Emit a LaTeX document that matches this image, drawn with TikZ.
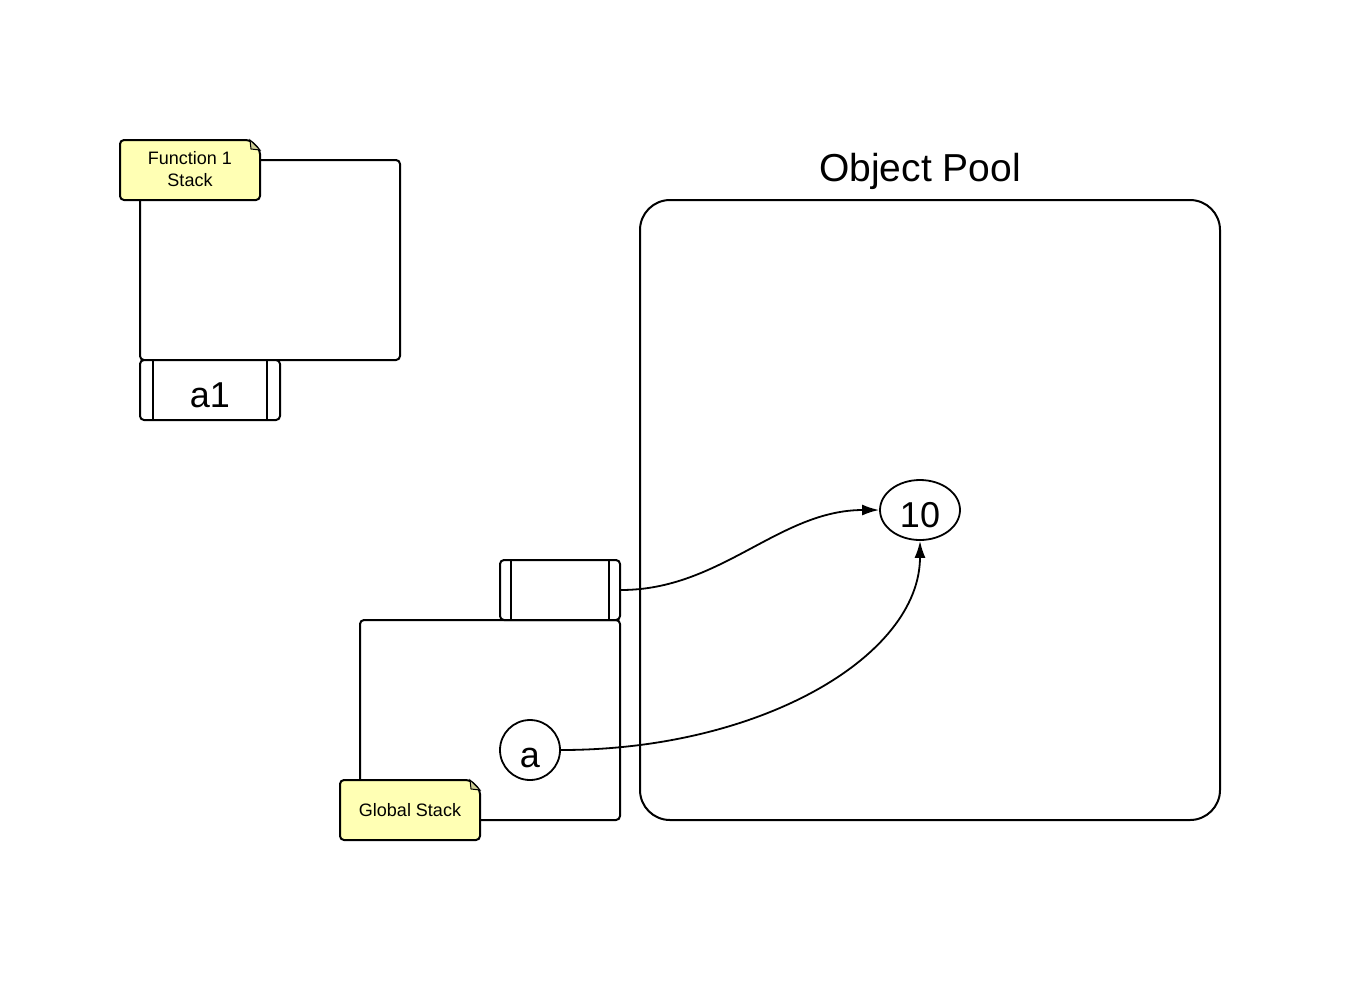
\documentclass[tikz,border=0pt]{standalone}
\usepackage{fontspec}
\setmainfont{Liberation Sans}
\usetikzlibrary{arrows.meta, shapes.geometric}

\definecolor{notey}{RGB}{255,255,180}
\definecolor{foldy}{RGB}{205,205,150}

\tikzset{
    stackbox/.style={draw, line width=2pt, rounded corners=4pt, fill=white, inner sep=0pt},
    cell/.style={draw, line width=2pt, rounded corners=4pt, fill=white, inner sep=0pt,
        minimum width=140pt, minimum height=60pt, text height=36pt,
        font=\fontsize{36}{40}\selectfont},
    notebox/.style={draw, line width=2pt, rounded corners=4pt, fill=notey},
    fold/.style={draw, line width=1pt, fill=foldy},
    notetext/.style={font=\fontsize{18}{22}\selectfont, align=center},
    pointer/.style={line width=1.8pt, -{Latex[length=17pt,width=11pt]}}
}

\begin{document}
\begin{tikzpicture}[x=1pt, y=-1pt]
    \useasboundingbox (0,0) rectangle (1360,994);

    % function 1 stack
    \node[stackbox, minimum width=260pt, minimum height=200pt] (fstack) at (270,260) {};
    \node[cell] (a1) at (210,390) {a1};
    \draw[line width=2pt] ([xshift=14pt]a1.north west) -- ([xshift=14pt]a1.south west);
    \draw[line width=2pt] ([xshift=-14pt]a1.north east) -- ([xshift=-14pt]a1.south east);
    \draw[notebox] (120,140) -- (250,140) -- (260,150) -- (260,200) -- (120,200) -- cycle;
    \filldraw[fold] (250,140) -- (251,149) -- (260,150) -- cycle;
    \node[notetext] (fnote) at (190,169) {Function 1\\Stack};

    % global stack
    \node[stackbox, minimum width=260pt, minimum height=200pt] (gstack) at (490,720) {};
    \node[cell, minimum width=120pt] (var) at (560,590) {};
    \draw[line width=2pt] ([xshift=12pt]var.north west) -- ([xshift=12pt]var.south west);
    \draw[line width=2pt] ([xshift=-12pt]var.north east) -- ([xshift=-12pt]var.south east);
    \node[draw, circle, line width=1.8pt, minimum size=60pt, inner sep=0pt, text height=35pt,
        font=\fontsize{36}{40}\selectfont] (a) at (530,750) {a};
    \draw[notebox] (340,780) -- (470,780) -- (480,790) -- (480,840) -- (340,840) -- cycle;
    \filldraw[fold] (470,780) -- (471,789) -- (480,790) -- cycle;
    \node[notetext] (gnote) at (410,810) {Global Stack};

    % object pool
    \node[draw, line width=2pt, rounded corners=30pt, minimum width=580pt,
        minimum height=620pt] (pool) at (930,510) {};
    \node[font=\fontsize{39}{44}\selectfont] (pooltitle) at (920,171) {Object Pool};
    \node[draw, ellipse, line width=1.8pt, minimum width=80pt, minimum height=60pt,
        inner sep=0pt, text height=36pt, font=\fontsize{36}{40}\selectfont] (ten) at (920,510) {10};

    \draw[pointer] (var.east) .. controls +(100,0) and +(-100,0) .. (ten.west);
    \draw[pointer] (a.east) .. controls +(200,0) and +(0,115) .. (ten.south);
\end{tikzpicture}
\end{document}
